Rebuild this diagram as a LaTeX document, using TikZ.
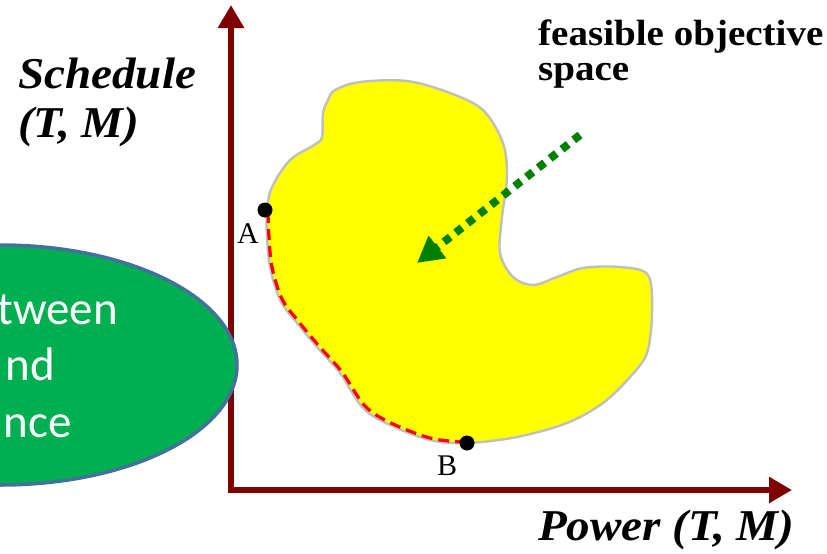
\documentclass[tikz,border=0pt]{standalone}
\usepackage{fontspec}
\setmainfont{Liberation Serif}
\newfontfamily\widefont[FakeStretch=1.07]{Liberation Serif}
\newfontfamily\calibrifont{Carlito}
\usetikzlibrary{arrows.meta}
\definecolor{axisred}{HTML}{7F0000}
\definecolor{blobyellow}{HTML}{FFFF00}
\definecolor{blobgray}{HTML}{BFBFBF}
\definecolor{ovalgreen}{HTML}{00B050}
\definecolor{ovalblue}{HTML}{41719C}
\definecolor{arrowgreen}{HTML}{008000}
\begin{document}
\begin{tikzpicture}[x=1pt,y=-1pt,
  axisline/.style={draw=axisred,line width=6pt,line join=miter,
    {Triangle[length=23pt,width=25pt]}-{Triangle[length=23pt,width=25pt]}},
  blob/.style={fill=blobyellow,draw=blobgray,line width=2.4pt},
  front/.style={draw=red,line width=3.2pt,dash pattern=on 11pt off 6pt},
  pointdot/.style={circle,fill=black,inner sep=0pt,minimum size=15pt},
  ptlabel/.style={inner sep=0pt,anchor=base west,font=\fontsize{30}{34}\selectfont},
  axislabel/.style={inner sep=0pt,anchor=base west,font=\widefont\fontsize{44}{49}\selectfont\bfseries\itshape},
  feaslabel/.style={inner sep=0pt,anchor=base west,font=\widefont\fontsize{36.5}{35}\selectfont\bfseries},
  oval/.style={fill=ovalgreen,draw=ovalblue,line width=3.5pt},
  ovaltext/.style={inner sep=0pt,anchor=base east,text=white,font=\calibrifont\fontsize{47}{57}\selectfont},
  dirarrow/.style={draw=arrowgreen,line width=8pt,dash pattern=on 8pt off 7pt,
    -{Triangle[length=26pt,width=27pt]}}
]
\useasboundingbox (0,0) rectangle (827,554);
\clip (0,0) rectangle (827,554);

% axes
\coordinate (O) at (231,490);
\coordinate (ytip) at (231,5);
\coordinate (xtip) at (792,490);
\draw[axisline] (ytip) -- (O) -- (xtip);

% feasible region
\path[blob] plot[smooth cycle,tension=0.55] coordinates {
 (335,90) (360,82) (407,81) (450,93) (483,110) (503,143) (507,177) (502,217)
 (500,253) (513,277) (533,285) (557,277) (583,268) (620,267) (648,275) (652,313)
 (647,353) (630,377) (603,403) (567,423) (517,437) (467,443) (430,440) (390,425)
 (363,408) (340,373) (317,347) (297,323) (280,300) (270,267) (267,237) (267,210)
 (272,187) (290,160) (314,145) (322,137) (323,113) (328,100)};

% Pareto front
\draw[front] plot[smooth,tension=0.55] coordinates {
 (268,212) (269,237) (272,267) (282,299) (299,322) (319,346) (342,372) (365,406)
 (391,423) (430,438) (462,442)};

\node[pointdot] (A) at (265,210) {};
\node[pointdot] (B) at (467,443) {};
\node[ptlabel] (Alab) at (237,243) {A};
\node[ptlabel] (Blab) at (437,475) {B};

% direction arrow
\coordinate (gs) at (580,135);
\coordinate (ge) at (417,263);
\draw[dirarrow] (gs) -- (ge);

% oval
\draw[oval] (0,365) ellipse [x radius=237, y radius=120];
\node[ovaltext] (t1) at (118,324) {tween};
\node[ovaltext] (t2) at (55,380) {nd};
\node[ovaltext] (t3) at (72,437) {nce};

% labels
\node[axislabel] (sched) at (18,88) {Schedule};
\node[axislabel] (schedtm) at (18,137) {(T, M)};
\node[axislabel] (power) at (538,540) {Power (T, M)};
\node[feaslabel] (feas1) at (538,45) {feasible objective};
\node[feaslabel] (feas2) at (538,80) {space};
\end{tikzpicture}
\end{document}
